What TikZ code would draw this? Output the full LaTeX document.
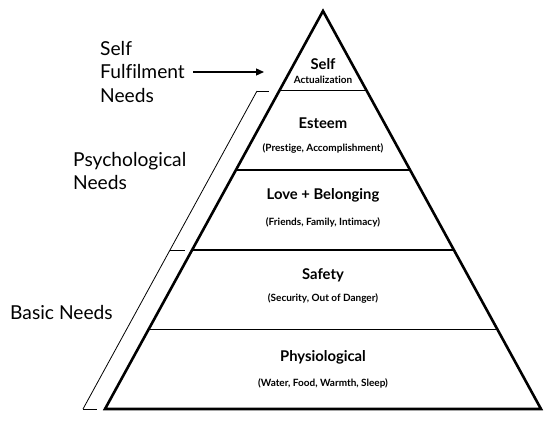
\documentclass[tikz,border=0pt]{standalone}
\usepackage{fontspec}
\setmainfont{Lato}[Ligatures=NoCommon]
\usepackage{tikz}
\usetikzlibrary{arrows.meta,positioning,calc}

\begin{document}
\begin{tikzpicture}[
		x=1pt, y=-1pt,
		outline/.style={
			draw=black,
			line width=2.6pt,
			line join=miter
		},
		tierline/.style={
			draw=black,
			line width=1.8pt
		},
		bracket/.style={
			draw=black,
			line width=0.8pt
		},
		arrow/.style={
			-{Triangle[length=8pt,width=7pt]},
			draw=black,
			line width=1.3pt
		},
		tiertitle/.style={
			font=\bfseries\fontsize{14.8}{16}\selectfont,
			inner sep=0pt
		},
		tiersub/.style={
			font=\bfseries\fontsize{10}{11}\selectfont,
			inner sep=0pt
		},
		needlabel/.style={
			align=left,
			font=\fontsize{19.2}{23.5}\selectfont,
			inner sep=0pt
		}
		]
		
		\useasboundingbox (0,0) rectangle (546,446);
		
		% pyramid corners
		\coordinate (apex) at (323,11);
		\coordinate (baseL) at (105,409);
		\coordinate (baseR) at (541,409);
		
		% tier edges
		\coordinate (l1) at ($(apex)!0.2!(baseL)$);
		\coordinate (r1) at ($(apex)!0.2!(baseR)$);
		\coordinate (l2) at ($(apex)!0.4!(baseL)$);
		\coordinate (r2) at ($(apex)!0.4!(baseR)$);
		\coordinate (l3) at ($(apex)!0.6!(baseL)$);
		\coordinate (r3) at ($(apex)!0.6!(baseR)$);
		\coordinate (l4) at ($(apex)!0.8!(baseL)$);
		\coordinate (r4) at ($(apex)!0.8!(baseR)$);
		
		\draw[tierline] (l1) -- (r1);
		\draw[tierline] (l2) -- (r2);
		\draw[tierline] (l3) -- (r3);
		\draw[tierline] (l4) -- (r4);
		\draw[outline] (apex) -- (baseR) -- (baseL) -- cycle;
		
		% tier texts
		\node[tiertitle] (self) at (323,64) {Self};
		\node[tiersub] (selfsub) at (323,80) {Actualization};
		
		\node[tiertitle] (esteem) at (323,123) {Esteem};
		\node[tiersub] (esteemsub) at (323,148) {(Prestige, Accomplishment)};
		
		\node[tiertitle] (love) at (323,195) {Love + Belonging};
		\node[tiersub] (lovesub) at (323,222) {(Friends, Family, Intimacy)};
		
		\node[tiertitle] (safety) at (323,275) {Safety};
		\node[tiersub] (safetysub) at (323,298) {(Security, Out of Danger)};
		
		\node[tiertitle] (physio) at (323,357) {Physiological};
		\node[tiersub] (physiosub) at (323,383) {(Water, Food, Warmth, Sleep)};
		
		% side labels
		\node[needlabel, anchor=west] (fulfil) at (100,72) {Self\\Fulfilment\\Needs};
		\node[needlabel, anchor=west] (psych) at (73,171) {Psychological\\Needs};
		\node[needlabel, anchor=west] (basic) at (10,313) {Basic Needs};
		
		% brackets
		\coordinate (brTop) at (257,91);
		\coordinate (brMid) at (170,250);
		\coordinate (brBot) at (83,409);
		\draw[bracket] (brTop) -- (brBot);
		\draw[bracket] (brTop) -- ++(12,0);
		\draw[bracket] (brMid) -- ++(15,0);
		\draw[bracket] (brBot) -- ++(14,0);
		
		\coordinate (selftip) at (264,72);
		\draw[arrow] ([xshift=8pt]fulfil.east) -- (selftip);
		
	\end{tikzpicture}
\end{document}
